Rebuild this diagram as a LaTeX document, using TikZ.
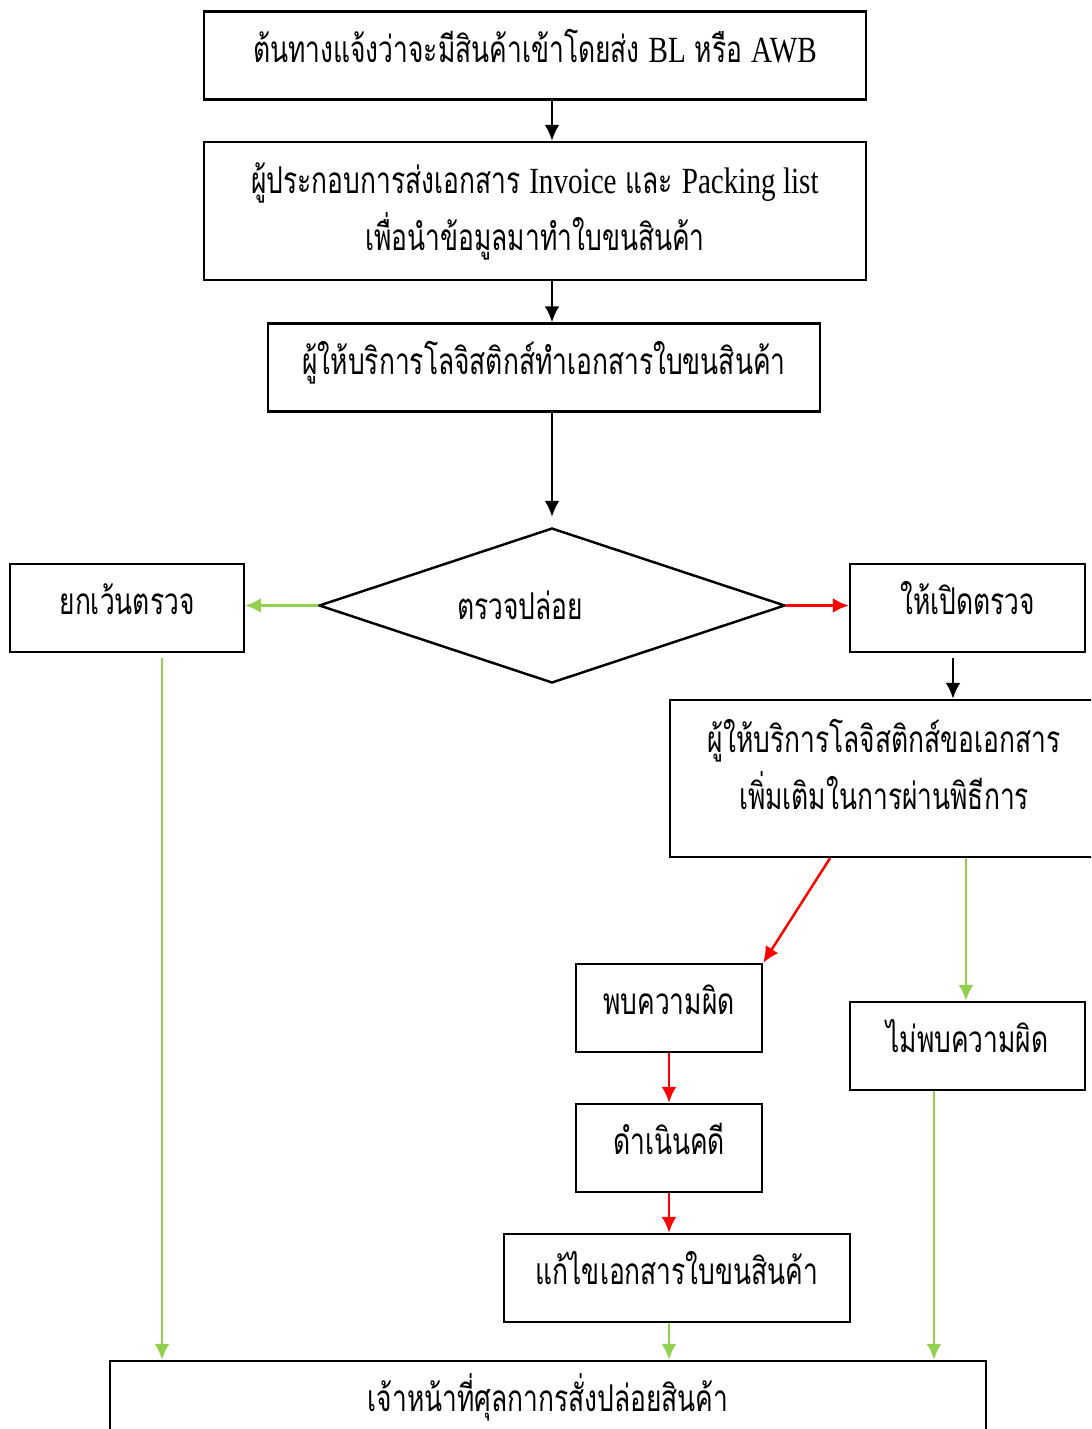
\documentclass[tikz,border=0pt]{standalone}
\usepackage{fontspec}
\setmainfont{Liberation Serif}[FakeStretch=0.79]
\newfontfamily\thaifont[Script=Thai,FakeStretch=0.715]{Loma}
\usetikzlibrary{shapes.geometric,arrows.meta}
\definecolor{pass color}{RGB}{146,208,80}
\definecolor{fail color}{RGB}{255,0,0}
\newcommand{\lat}[1]{{\rmfamily #1}}

\begin{document}
\begin{tikzpicture}[
	font=\thaifont\fontsize{10.5}{16.2}\selectfont,
	line width=0.7pt,
	tallbox/.style={draw, rectangle, align=center, inner sep=0pt, minimum height=0.88cm},
	box/.style={tallbox, text height=3mm, text depth=1.7mm},
	decision/.style={draw, diamond, inner sep=0pt, minimum width=4.66cm, minimum height=1.55cm},
	flow/.style={-{Latex[length=1.6mm,width=1.5mm]}},
	pass/.style={flow, pass color},
	fail/.style={flow, fail color}]

% Page
\useasboundingbox (0,0) rectangle (10.91,-14.29);
\clip (0,0) rectangle (10.91,-14.29);

% Main line
\node (notice) at (5.35,-0.555) [box, minimum width=6.62cm] {ต้นทางแจ้งว่าจะมีสินค้าเข้าโดยส่ง \lat{BL} หรือ \lat{AWB}};
\node (invoice) at (5.35,-2.11) [tallbox, minimum width=6.62cm, minimum height=1.38cm] {ผู้ประกอบการส่งเอกสาร \lat{Invoice} และ \lat{Packing list}\\เพื่อนำข้อมูลมาทำใบขนสินค้า};
\node (waybill) at (5.44,-3.675) [box, minimum width=5.52cm] {ผู้ให้บริการโลจิสติกส์ทำเอกสารใบขนสินค้า};
\node (check) at (5.52,-6.055) [decision] {\hspace*{-6.4mm}ตรวจปล่อย};

% Branches
\node (exempt) at (1.27,-6.08) [box, minimum width=2.34cm] {ยกเว้นตรวจ};
\node (open) at (9.675,-6.08) [box, minimum width=2.35cm] {ให้เปิดตรวจ};
\node (request) at (8.84,-7.785) [tallbox, minimum width=4.28cm, minimum height=1.57cm, text depth=2.8mm] {ผู้ให้บริการโลจิสติกส์ขอเอกสาร\\เพิ่มเติมในการผ่านพิธีการ};
\node (found) at (6.69,-10.08) [box, minimum width=1.86cm] {พบความผิด};
\node (clear) at (9.675,-10.46) [box, minimum width=2.35cm] {ไม่พบความผิด};
\node (case) at (6.69,-11.48) [box, minimum width=1.86cm] {ดำเนินคดี};
\node (fix) at (6.77,-12.78) [box, minimum width=3.46cm] {แก้ไขเอกสารใบขนสินค้า};
\node (release) at (5.48,-14.05) [box, minimum width=8.76cm] {เจ้าหน้าที่ศุลกากรสั่งปล่อยสินค้า};

% Main arrows
\draw [flow] (notice.south -| check) -- (invoice.north -| check);
\draw [flow] (invoice.south -| check) -- (waybill.north -| check);
\draw [flow, shorten >=1mm] (waybill.south -| check) -- (check.north);

% Decision
\draw [pass] (check.west) -- (check.west -| exempt.east);
\draw [fail] (check.east) -- (check.east -| open.west);
\draw [flow, shorten <=0.5mm] ([xshift=-1.45mm]open.south) -- ([xshift=-1.45mm]open.south |- request.north);

% Inspection result
\draw [fail] ([xshift=-5.4mm]request.south) -- (found.north east);
\draw [pass] ([xshift=8.2mm]request.south) -- ([xshift=8.2mm]request.south |- clear.north);
\draw [fail] (found) -- (case);
\draw [fail] (case.south) -- (case.south |- fix.north);

% Release
\draw [pass] (case.south |- fix.south) -- (case.south |- release.north);
\draw [pass, shorten <=0.5mm] ([xshift=3.5mm]exempt.south) -- ([xshift=3.5mm]exempt.south |- release.north);
\draw [pass] ([xshift=-3.35mm]clear.south) -- ([xshift=-3.35mm]clear.south |- release.north);

\end{tikzpicture}
\end{document}
